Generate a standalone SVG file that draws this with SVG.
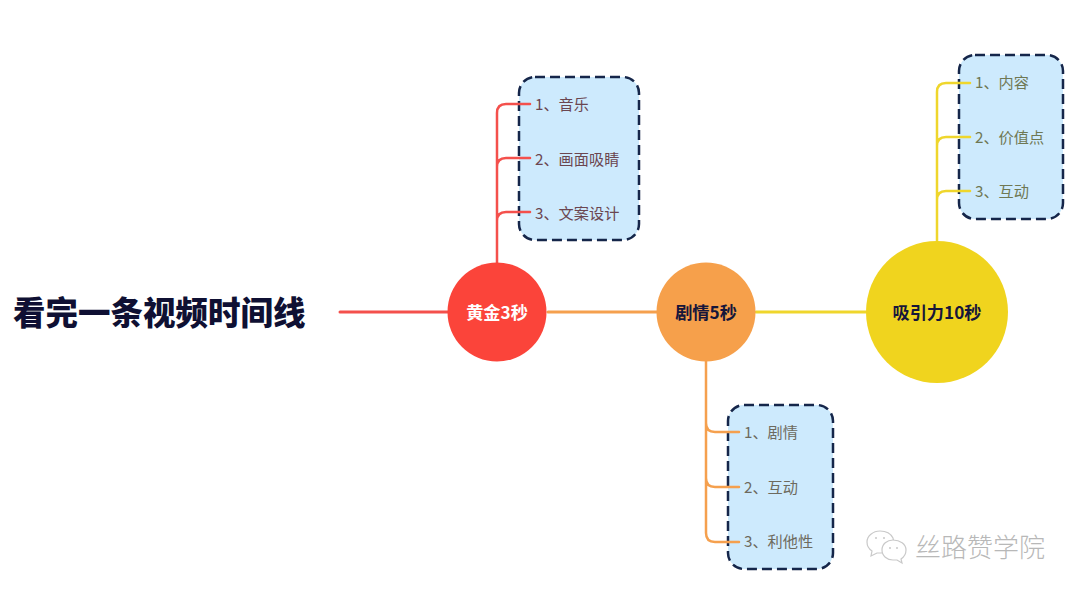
<svg xmlns="http://www.w3.org/2000/svg" width="1080" height="595" viewBox="0 0 1080 595">
<style>
text{font-family:"Noto Sans CJK SC","Liberation Sans",sans-serif}
.box{fill:#cdeafd;stroke:#15264a;stroke-width:2.5;stroke-dasharray:10 5}
.ln{fill:none;stroke-width:3;stroke-linecap:round}
.br{stroke-width:2.500}
.r{stroke:#f4504c}.o{stroke:#f5a04e}.y{stroke:#efd62c}
.it{font-size:15.2px;dominant-baseline:central}
.n{font-size:17.200px;font-weight:700;text-anchor:middle;dominant-baseline:central}
</style>
<rect width="1080" height="595" fill="#fff"/>
<g id="box-red"><rect class="box" x="519" y="77" width="120" height="163" rx="16"/></g>
<g id="box-orange"><rect class="box" x="728" y="405" width="105" height="164" rx="16"/></g>
<g id="box-yellow"><rect class="box" x="959" y="55" width="104" height="164" rx="16"/></g>
<g id="connectors">
<path class="ln r" d="M340 312H450"/>
<path class="ln o" d="M548 312H658"/>
<path class="ln y" d="M756 312H866"/>
<path class="ln br r" d="M497 264V113Q497 104 506 104H530M497 167Q497 158 506 158H530M497 221Q497 212 506 212H530"/>
<path class="ln br o" d="M706 361V533Q706 542 715 542H739M706 478Q706 487 715 487H739M706 423Q706 432 715 432H739"/>
<path class="ln br y" d="M937 242V92Q937 83 946 83H970M937 146Q937 137 946 137H970M937 200Q937 191 946 191H970"/>
</g>
<g id="title"><text x="13" y="310" font-size="32.500" font-weight="900" fill="#0f1033" dominant-baseline="central">看完一条视频时间线</text></g>
<g id="node-gold"><circle cx="497" cy="312" r="49.500" fill="#fb443a"/><text class="n" x="497" y="311" fill="#fff">黄金3秒</text></g>
<g id="node-plot"><circle cx="706" cy="312" r="49.500" fill="#f6a04b"/><text class="n" x="706" y="311" fill="#16163a">剧情5秒</text></g>
<g id="node-attract"><circle cx="937" cy="312" r="71" fill="#f0d41e"/><text class="n" x="937" y="311" fill="#16163a">吸引力10秒</text></g>
<g id="items-gold" fill="#6b4650">
<text class="it" x="535" y="103">1、音乐</text>
<text class="it" x="535" y="158">2、画面吸睛</text>
<text class="it" x="535" y="212">3、文案设计</text>
</g>
<g id="items-plot" fill="#6d6a5e">
<text class="it" x="744" y="431">1、剧情</text>
<text class="it" x="744" y="486">2、互动</text>
<text class="it" x="744" y="540">3、利他性</text>
</g>
<g id="items-attract" fill="#6f7853">
<text class="it" x="975" y="81">1、内容</text>
<text class="it" x="975" y="136">2、价值点</text>
<text class="it" x="975" y="190">3、互动</text>
</g>
<g id="watermark">
<g fill="#fff" stroke="#c9c9c9" stroke-width="1.2">
<path d="M880 531c-7 0-13 5-13 11 0 4 2 7 5 9l-1 5 6-3 4 0c4 0 8-2 10-5 2-3 3-7 2-10-2-4-7-7-13-7z"/>
<path d="M893 540c-6 0-11 4-11 10s5 10 11 10l4 0 5 3-1-4c3-2 5-5 5-9 0-6-6-10-13-10z"/>
</g>
<g fill="#c9c9c9"><circle cx="876" cy="538" r="1"/><circle cx="884" cy="538" r="1"/><circle cx="890" cy="548" r="1"/><circle cx="897" cy="548" r="1"/></g>
<text x="915" y="545" font-size="26" font-weight="300" fill="#b8b8b8" dominant-baseline="central">丝路赞学院</text>
</g>
</svg>
